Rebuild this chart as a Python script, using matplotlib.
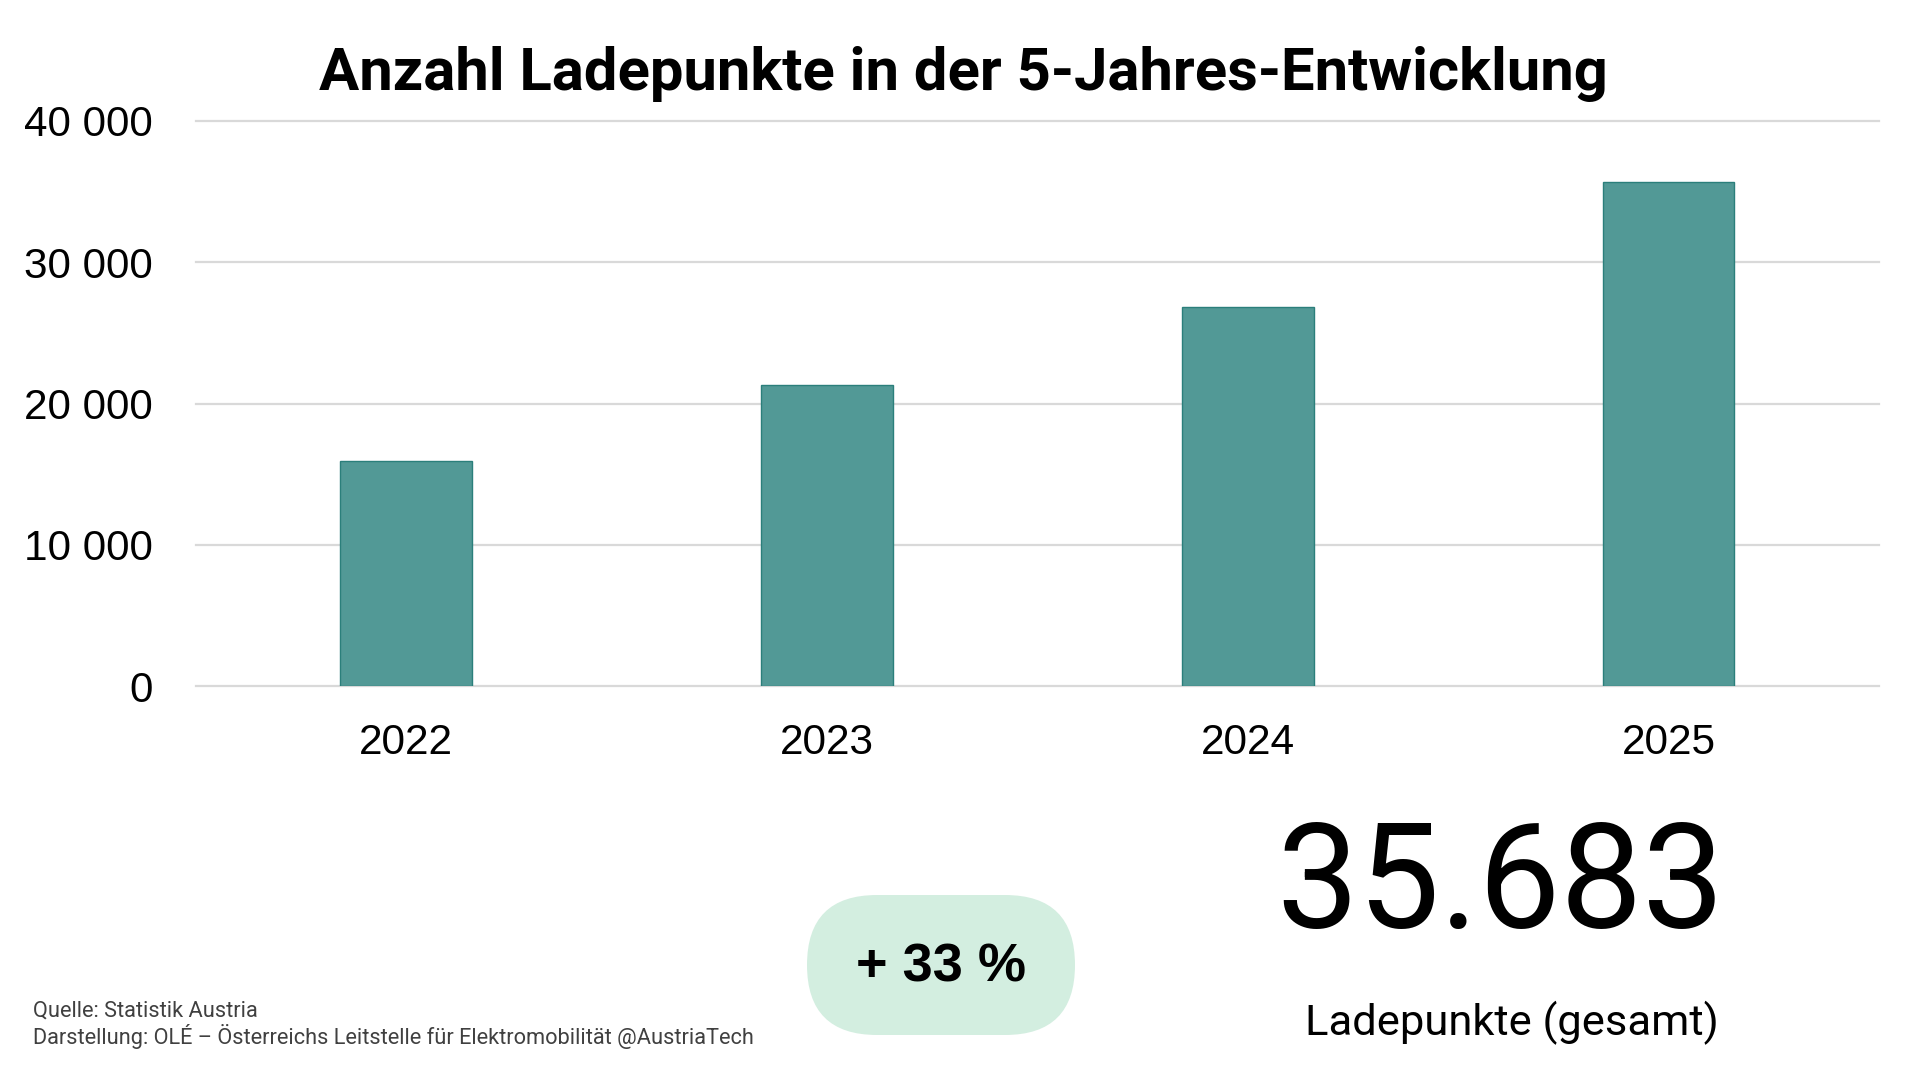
import matplotlib
matplotlib.use("Agg")
import matplotlib.pyplot as plt
from matplotlib.patches import FancyBboxPatch

# ---- data ----
years = ["2022", "2023", "2024", "2025"]
values = [15900, 21300, 26830, 35683]
yticks = [0, 10000, 20000, 30000, 40000]
ytick_labels = ["0", "10 000", "20 000", "30 000", "40 000"]
title = "Anzahl Ladepunkte in der 5-Jahres-Entwicklung"
total_label = "Ladepunkte (gesamt)"
source_lines = ["Quelle: Statistik Austria",
                "Darstellung: OLÉ – Österreichs Leitstelle für Elektromobilität @AustriaTech"]

BAR = "#529996"
EDGE = "#2b7f7b"
GRID = "#d9d9d9"
PILL = "#d3eee0"
APTOS = ["Roboto", "DejaVu Sans"]
ARIAL = ["Liberation Sans", "DejaVu Sans"]

W, H = 1920, 1067
fig = plt.figure(figsize=(W / 100, H / 100), dpi=100)
fig.patch.set_facecolor("white")

# main chart axes (pixel-derived placement)
ax_l, ax_r = 195.7 / W, 1879 / W
ax_b, ax_t = (H - 686) / H, (H - 121) / H
ax = fig.add_axes([ax_l, ax_b, ax_r - ax_l, ax_t - ax_b])
x = range(len(years))
ax.bar(x, values, width=0.313, color=BAR, edgecolor=EDGE, linewidth=1.0, zorder=3)
ax.set_xlim(-0.5, len(years) - 0.5)
ax.set_ylim(0, 40000)
ax.set_yticks(yticks)
ax.set_yticklabels(ytick_labels, family=ARIAL, fontsize=30.4)
ax.set_xticks(list(x))
ax.set_xticklabels(years, family=ARIAL, fontsize=30.5)
ax.tick_params(axis="both", length=0)
ax.tick_params(axis="y", pad=31)
ax.tick_params(axis="x", pad=27)
for s in ax.spines.values():
    s.set_visible(False)
ax.yaxis.grid(True, color=GRID, linewidth=1.6, zorder=0)
for gl in ax.get_ygridlines():
    gl.set_clip_on(False)
ax.set_axisbelow(True)

# overlay axes in pixel coordinates for annotations
ov = fig.add_axes([0, 0, 1, 1], zorder=5)
ov.set_xlim(0, W)
ov.set_ylim(H, 0)
ov.axis("off")
ov.patch.set_alpha(0)

# title
ov.text(963, 90, title, ha="center", va="baseline",
        family=APTOS, fontweight="bold", fontsize=43)

# growth pill
growth = round((values[-1] / values[-2] - 1) * 100)
px0, px1, py0, py1 = 807, 1075, 895, 1035
r = (py1 - py0) / 2
pill = FancyBboxPatch((px0 + r, py0 + r), (px1 - px0) - 2 * r, 0,
                      boxstyle=f"round,pad={r},rounding_size={r}",
                      facecolor=PILL, edgecolor="none", mutation_aspect=1)
ov.add_patch(pill)
ov.text((px0 + px1) / 2, 968, f"+ {growth} %", ha="center", va="center",
        family=ARIAL, fontweight="bold", fontsize=39)

# big total
total_str = f"{values[-1]:,}".replace(",", ".")
ov.text(1500, 928, total_str, ha="center", va="baseline", family=APTOS, fontsize=105)
ov.text(1512, 1035, total_label, ha="center", va="baseline", family=APTOS, fontsize=31.3)

# source
ov.text(33, 1017, source_lines[0], ha="left", va="baseline", family=APTOS,
        fontsize=15.7, color="#404040")
ov.text(33, 1044, source_lines[1], ha="left", va="baseline", family=APTOS,
        fontsize=15.7, color="#404040")

fig.savefig("out.png", dpi=100, facecolor="white")
